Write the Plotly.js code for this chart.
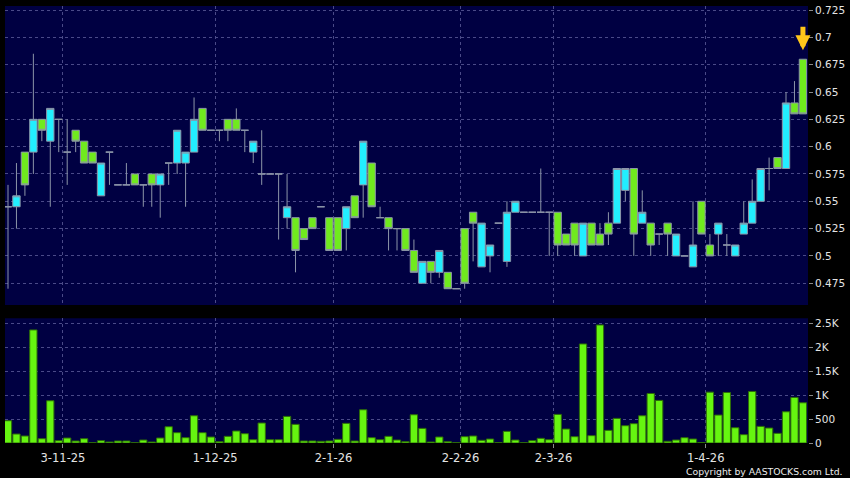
<!DOCTYPE html>
<html>
<head>
<meta charset="utf-8">
<script src="https://cdn.plot.ly/plotly-3.0.1.min.js"></script>
<style>
html,body{margin:0;padding:0;background:#000;}
#chart{width:850px;height:478px;}
</style>
</head>
<body>
<div id="chart"></div>
<script>
// ---- data ----
const openP  = [0.545,0.545,0.595,0.595,0.625,0.605,0.625,0.595,0.615,0.605,
                0.595,0.555,0.595,0.565,0.565,0.575,0.565,0.575,0.565,0.585,
                0.585,0.585,0.595,0.635,0.615,0.615,0.625,0.625,0.615,0.595,
                0.575,0.575,0.575,0.535,0.535,0.525,0.535,0.545,0.535,0.535,
                0.525,0.555,0.565,0.585,0.535,0.535,0.525,0.525,0.505,0.475,
                0.495,0.485,0.485,0.470,0.525,0.540,0.490,0.500,0.530,0.495,
                0.540,0.540,0.540,0.540,0.540,0.540,0.520,0.530,0.500,0.530,
                0.520,0.530,0.530,0.560,0.580,0.530,0.530,0.520,0.530,0.500,
                0.500,0.490,0.550,0.510,0.520,0.510,0.500,0.520,0.530,0.550,
                0.580,0.590,0.580,0.640,0.680];
const highP  = [0.565,0.585,0.595,0.685,0.625,0.635,0.625,0.625,0.615,0.605,
                0.595,0.585,0.595,0.565,0.585,0.575,0.565,0.575,0.575,0.585,
                0.615,0.595,0.645,0.635,0.615,0.615,0.625,0.635,0.615,0.605,
                0.615,0.575,0.575,0.575,0.535,0.525,0.535,0.545,0.535,0.535,
                0.545,0.555,0.605,0.585,0.545,0.535,0.525,0.525,0.515,0.495,
                0.495,0.505,0.485,0.470,0.525,0.540,0.530,0.510,0.530,0.550,
                0.550,0.540,0.540,0.580,0.540,0.540,0.520,0.530,0.530,0.530,
                0.530,0.540,0.580,0.580,0.580,0.560,0.530,0.520,0.530,0.520,
                0.500,0.550,0.550,0.520,0.530,0.520,0.510,0.550,0.570,0.580,
                0.590,0.590,0.650,0.660,0.680];
const lowP   = [0.470,0.525,0.555,0.575,0.605,0.545,0.595,0.565,0.595,0.585,
                0.585,0.555,0.565,0.565,0.565,0.565,0.545,0.545,0.535,0.565,
                0.575,0.545,0.595,0.615,0.615,0.605,0.605,0.615,0.595,0.585,
                0.565,0.575,0.515,0.525,0.485,0.515,0.525,0.545,0.505,0.505,
                0.505,0.535,0.535,0.545,0.535,0.505,0.505,0.505,0.485,0.475,
                0.475,0.480,0.470,0.470,0.470,0.495,0.490,0.485,0.530,0.490,
                0.540,0.540,0.540,0.540,0.500,0.500,0.510,0.500,0.500,0.510,
                0.510,0.510,0.530,0.550,0.500,0.530,0.500,0.510,0.500,0.500,
                0.500,0.490,0.520,0.500,0.500,0.500,0.500,0.520,0.530,0.550,
                0.560,0.580,0.580,0.630,0.630];
const closeP = [0.545,0.555,0.565,0.625,0.615,0.635,0.625,0.595,0.605,0.585,
                0.585,0.585,0.595,0.565,0.565,0.565,0.565,0.565,0.575,0.585,
                0.615,0.595,0.625,0.615,0.615,0.615,0.615,0.615,0.615,0.605,
                0.575,0.575,0.575,0.545,0.505,0.515,0.525,0.545,0.505,0.505,
                0.545,0.535,0.605,0.545,0.535,0.525,0.525,0.505,0.485,0.495,
                0.485,0.505,0.470,0.470,0.475,0.530,0.530,0.510,0.530,0.540,
                0.550,0.540,0.540,0.540,0.540,0.510,0.510,0.510,0.530,0.510,
                0.510,0.520,0.580,0.580,0.520,0.540,0.510,0.520,0.520,0.520,
                0.500,0.510,0.520,0.500,0.530,0.510,0.510,0.530,0.550,0.580,
                0.580,0.580,0.640,0.630,0.630];
const volume = [465,187,146,2361,90,882,49,104,42,90,
                5,49,20,42,42,5,62,20,104,340,
                215,111,569,215,125,28,139,250,194,69,
                417,69,69,555,389,42,42,35,42,76,
                410,42,694,111,69,139,62,28,590,305,
                20,125,28,5,132,146,56,83,7,243,
                62,5,49,97,69,597,291,132,2068,153,
                2464,264,514,361,403,569,1034,889,35,62,
                111,83,10,1062,583,1055,319,174,1076,347,
                312,201,652,951,840];

const dateTickPos  = [6.5, 24.5, 38.5, 53.5, 64.5, 82.5];
const dateTickText = ['3-11-25','1-12-25','2-1-26','2-2-26','2-3-26','1-4-26'];
const priceTicks    = [0.475,0.5,0.525,0.55,0.575,0.6,0.625,0.65,0.675,0.7,0.725];
const priceTickText = ['0.475','0.5','0.525','0.55','0.575','0.6','0.625','0.65','0.675','0.7','0.725'];
const volTicks    = [0,500,1000,1500,2000,2500];
const volTickText = ['0','500','1K','1.5K','2K','2.5K'];

// ---- chart ----
const idx = openP.map((_, i) => i);
const last = idx.length - 1;

const gridCol = '#4a4a88';
const tickCol = '#8a8a8a';
const txtCol = '#e4e4e4';

const candles = {
  type: 'candlestick', x: idx, open: openP, high: highP, low: lowP, close: closeP,
  xaxis: 'x', yaxis: 'y2',
  increasing: {fillcolor: '#22eeff', line: {color: '#8c95a8', width: 1}},
  decreasing: {fillcolor: '#70ea1e', line: {color: '#8c95a8', width: 1}},
  whiskerwidth: 0, hoverinfo: 'skip'
};
const vol = {
  type: 'bar', x: idx, y: volume, xaxis: 'x', yaxis: 'y', width: 0.86,
  marker: {color: '#66f510', line: {color: '#2e6e08', width: 1}},
  hoverinfo: 'skip'
};

const layout = {
  width: 850, height: 478,
  paper_bgcolor: '#000000', plot_bgcolor: '#000042',
  margin: {l: 5, r: 42, t: 6, b: 35},
  showlegend: false,
  boxgap: 0.13, boxgroupgap: 0,
  font: {family: 'DejaVu Sans', color: txtCol, size: 10.5},
  xaxis: {
    range: [-0.355, 94.6], anchor: 'y',
    tickmode: 'array', tickvals: dateTickPos, ticktext: dateTickText,
    ticks: 'outside', ticklen: 4, tickcolor: tickCol,
    tickfont: {size: 11.5, color: txtCol, family: 'DejaVu Sans'},
    showgrid: true, gridcolor: gridCol, griddash: '3px,3px', gridwidth: 1,
    zeroline: false, showline: false,
    rangeslider: {visible: false}, fixedrange: true
  },
  yaxis: {
    domain: [0, 0.2854], range: [0, 2604], side: 'right', anchor: 'x',
    tickmode: 'array', tickvals: volTicks, ticktext: volTickText,
    ticks: 'outside', ticklen: 4, tickcolor: tickCol,
    tickfont: {size: 10.5, color: txtCol, family: 'DejaVu Sans'},
    showgrid: true, gridcolor: gridCol, griddash: '3px,3px',
    zeroline: false, showline: false, fixedrange: true
  },
  yaxis2: {
    domain: [0.3158, 1], range: [0.4551, 0.7287], side: 'right', anchor: 'x',
    tickmode: 'array', tickvals: priceTicks, ticktext: priceTickText,
    ticks: 'outside', ticklen: 4, tickcolor: tickCol,
    tickfont: {size: 10.5, color: txtCol, family: 'DejaVu Sans'},
    showgrid: true, gridcolor: gridCol, griddash: '3px,3px',
    zeroline: false, showline: false, fixedrange: true
  },
  annotations: [
    {
      x: idx[last], y: highP[last], xref: 'x', yref: 'y2',
      showarrow: true, ax: 0, ay: -34, axref: 'pixel', ayref: 'pixel',
      arrowcolor: '#ffc61a', arrowwidth: 5, arrowhead: 2, arrowsize: 0.6,
      standoff: 9, text: ''
    },
    {
      xref: 'paper', yref: 'paper', x: 1.046, y: -0.066,
      xanchor: 'right', yanchor: 'middle', showarrow: false,
      text: 'Copyright by AASTOCKS.com Ltd.',
      font: {family: 'DejaVu Sans', size: 9.3, color: '#ececec'}
    }
  ]
};

Plotly.newPlot('chart', [vol, candles], layout, {displayModeBar: false, staticPlot: true});
</script>
</body>
</html>
